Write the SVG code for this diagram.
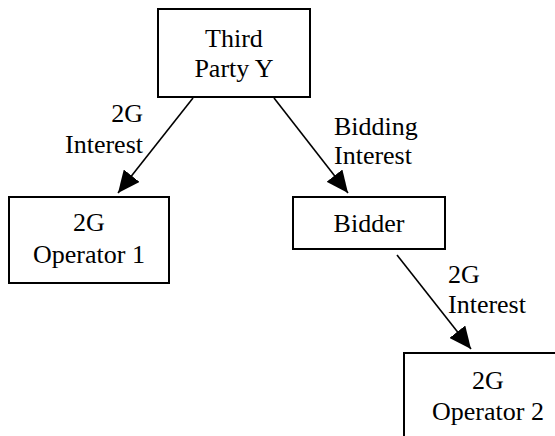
<svg xmlns="http://www.w3.org/2000/svg" width="555" height="436" viewBox="0 0 555 436">
  <style>
    .box { fill: #ffffff; stroke: #000000; stroke-width: 2; }
    .label { font-family: 'Liberation Serif', 'DejaVu Serif', serif; font-size: 26px; fill: #000000; }
    .mid { text-anchor: middle; }
    .end { text-anchor: end; }
    .edge { stroke: #000000; stroke-width: 1.6; fill: none; marker-end: url(#arrow); }
  </style>
  <defs>
    <marker id="arrow" viewBox="0 0 22 20" refX="22" refY="10" markerWidth="22" markerHeight="20" markerUnits="userSpaceOnUse" orient="auto">
      <path d="M0,0 L22,10 L0,20 Z" fill="#000000"/>
    </marker>
  </defs>
  <rect width="555" height="436" fill="#ffffff"/>

  <!-- connectors with their labels -->
  <g id="connectors">
    <line class="edge" x1="193" y1="98" x2="118" y2="193"/>
    <line class="edge" x1="274" y1="98" x2="348" y2="193"/>
    <line class="edge" x1="397" y1="255" x2="471" y2="349"/>
    <text class="label end" x="143" y="122">2G</text>
    <text class="label end" x="143" y="153">Interest</text>
    <text class="label" x="334" y="135">Bidding</text>
    <text class="label" x="334" y="164">Interest</text>
    <text class="label" x="448" y="283">2G</text>
    <text class="label" x="448" y="313">Interest</text>
  </g>

  <g id="third-party-y">
    <rect class="box" x="158" y="9" width="152" height="88"/>
    <text class="label mid" x="234" y="47">Third</text>
    <text class="label mid" x="234" y="77">Party Y</text>
  </g>

  <g id="operator-1">
    <rect class="box" x="9" y="197" width="160" height="86"/>
    <text class="label mid" x="89" y="231">2G</text>
    <text class="label mid" x="89" y="263">Operator 1</text>
  </g>

  <g id="bidder">
    <rect class="box" x="293" y="197" width="152" height="52"/>
    <text class="label mid" x="369" y="232">Bidder</text>
  </g>

  <g id="operator-2">
    <rect class="box" x="404" y="353" width="160" height="90"/>
    <text class="label mid" x="488" y="389">2G</text>
    <text class="label mid" x="488" y="420">Operator 2</text>
  </g>
</svg>
